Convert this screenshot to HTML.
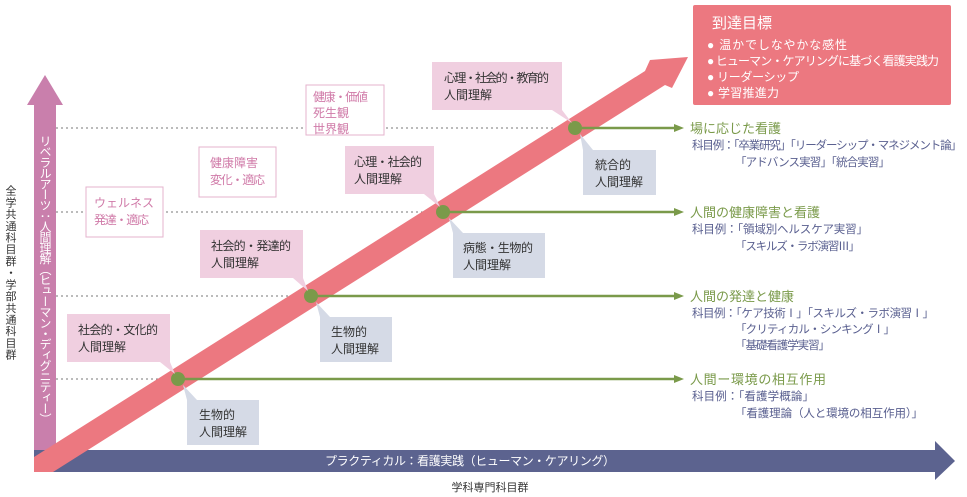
<!DOCTYPE html>
<html><head><meta charset="utf-8"><style>
html,body{margin:0;padding:0;background:#fff;}
svg{display:block;font-family:"Liberation Sans","Noto Sans CJK JP",sans-serif;}
</style></head><body>
<svg width="967" height="497" viewBox="0 0 967 497" xmlns="http://www.w3.org/2000/svg">
<g stroke="#777" stroke-width="1" stroke-dasharray="2,3">
<line x1="56" y1="128" x2="575" y2="128"/>
<line x1="56" y1="212" x2="443" y2="212"/>
<line x1="56" y1="296" x2="311" y2="296"/>
<line x1="56" y1="379" x2="178" y2="379"/>
</g>
<polygon points="34,472 34,105 27,105 45,75 63,105 56,105 56,472" fill="#c97fac"/>
<polygon points="34,450 935,450 935,441 955,461 935,480 935,472 34,472" fill="#5c638f"/>
<polygon points="34,472 34,457 645,71 650,60 688,57 672,88 665,85 53,472" fill="#ec7880"/>
<g stroke="#7a9a4a" stroke-width="2.5" fill="#7a9a4a">
<line x1="178" y1="379" x2="676" y2="379"/>
<line x1="311" y1="296" x2="676" y2="296"/>
<line x1="443" y1="212" x2="676" y2="212"/>
<line x1="575" y1="128" x2="676" y2="128"/>
</g>
<g fill="#7a9a4a">
<polygon points="674,124 684,128 674,132"/>
<polygon points="674,208 684,212 674,216"/>
<polygon points="674,292 684,296 674,300"/>
<polygon points="674,375 684,379 674,383"/>
<circle cx="178" cy="379" r="7"/><circle cx="311" cy="296" r="7"/>
<circle cx="443" cy="212" r="7"/><circle cx="575" cy="128" r="7"/>
</g>
<g fill="#f0cfe0">
<rect x="67" y="314" width="103" height="48"/><polygon points="160,362 170,362 175,374"/>
<rect x="200" y="230" width="103" height="48"/><polygon points="293,278 303,278 308,291"/>
<rect x="345" y="146" width="89" height="48"/><polygon points="424,194 434,194 440,207"/>
<rect x="432" y="62" width="130" height="48"/><polygon points="552,110 562,110 572,123"/>
</g>
<g fill="#d5dae6">
<rect x="187" y="400" width="72" height="45"/><polygon points="187,400 197,400 183,385"/>
<rect x="320" y="317" width="72" height="45"/><polygon points="320,317 330,317 316,302"/>
<rect x="453" y="233" width="92" height="45"/><polygon points="453,233 463,233 449,218"/>
<rect x="583" y="150" width="73" height="45"/><polygon points="583,150 593,150 580,134"/>
</g>
<g fill="#fff" stroke="#e4b3cd" stroke-width="1">
<rect x="86" y="187" width="77" height="50"/>
<rect x="199" y="147" width="77" height="50"/>
<rect x="306" y="85" width="78" height="50"/>
</g>
<g font-size="12" fill="#d07aa8">
<text x="94" y="207" textLength="60">ウェルネス</text><text x="94" y="224" textLength="55">発達・適応</text>
<text x="210" y="167">健康障害</text><text x="210" y="184" textLength="55">変化・適応</text>
<text x="313" y="101" textLength="55">健康・価値</text><text x="313" y="117">死生観</text><text x="313" y="133">世界観</text>
</g>
<g font-size="12" fill="#333">
<text x="78" y="334" textLength="80">社会的・文化的</text><text x="78" y="351">人間理解</text>
<text x="211" y="250" textLength="80">社会的・発達的</text><text x="211" y="267">人間理解</text>
<text x="354" y="166" textLength="68">心理・社会的</text><text x="354" y="183">人間理解</text>
<text x="444" y="82" textLength="105">心理・社会的・教育的</text><text x="444" y="99">人間理解</text>
<text x="199" y="419">生物的</text><text x="199" y="436">人間理解</text>
<text x="331" y="336">生物的</text><text x="331" y="353">人間理解</text>
<text x="463" y="252" textLength="70">病態・生物的</text><text x="463" y="269">人間理解</text>
<text x="595" y="169">統合的</text><text x="595" y="186">人間理解</text>
</g>
<rect x="693" y="5" width="258" height="100" rx="2" fill="#ec7880"/>
<g fill="#fff">
<text x="712" y="28" font-size="15">到達目標</text>
<text x="707" y="49" font-size="12" textLength="140">● 温かでしなやかな感性</text>
<text x="707" y="65" font-size="12" textLength="232">● ヒューマン・ケアリングに基づく看護実践力</text>
<text x="707" y="81" font-size="12" textLength="92">● リーダーシップ</text>
<text x="707" y="97" font-size="12" textLength="72">● 学習推進力</text>
</g>
<g font-size="13" fill="#7a9a4a">
<text x="690" y="133">場に応じた看護</text>
<text x="690" y="217">人間の健康障害と看護</text>
<text x="690" y="301">人間の発達と健康</text>
<text x="690" y="384" textLength="136">人間ー環境の相互作用</text>
</g>
<g font-size="11.5" fill="#5a6090">
<text x="692" y="149" textLength="270">科目例：「卒業研究」「リーダーシップ・マネジメント論」</text>
<text x="735" y="166" textLength="155">「アドバンス実習」「統合実習」</text>
<text x="692" y="233" textLength="176">科目例：「領域別ヘルスケア実習」</text>
<text x="735" y="250" textLength="125">「スキルズ・ラボ演習Ⅲ」</text>
<text x="692" y="317" textLength="242">科目例：「ケア技術Ⅰ」「スキルズ・ラボ演習Ⅰ」</text>
<text x="735" y="333" textLength="160">「クリティカル・シンキングⅠ」</text>
<text x="735" y="349" textLength="95">「基礎看護学実習」</text>
<text x="692" y="400" textLength="122">科目例：「看護学概論」</text>
<text x="735" y="417" textLength="188">「看護理論（人と環境の相互作用）」</text>
</g>
<text x="470" y="465" font-size="12" fill="#fff" text-anchor="middle" textLength="290">プラクティカル：看護実践（ヒューマン・ケアリング）</text>
<text x="490" y="491" font-size="11" fill="#333" text-anchor="middle">学科専門科目群</text>
<text x="45" y="135" font-size="12" fill="#fff" style="writing-mode:vertical-rl" textLength="290">リベラルアーツ：人間理解（ヒューマン・ディグニティー）</text>
<text x="10" y="185" font-size="11" fill="#333" style="writing-mode:vertical-rl" textLength="175">全学共通科目群・学部共通科目群</text>
</svg>
</body></html>
